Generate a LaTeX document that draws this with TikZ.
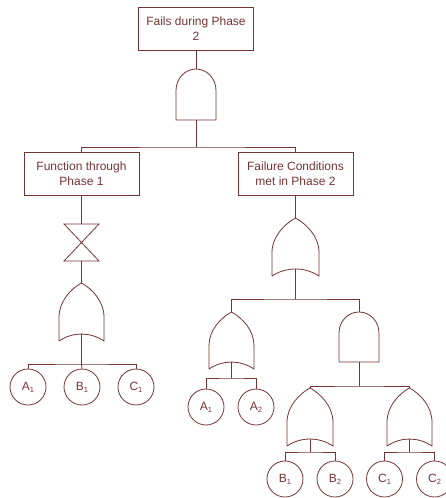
\documentclass[tikz,border=0pt]{standalone}
\usepackage{fontspec}
\setmainfont{Liberation Sans}
\usetikzlibrary{calc}
\definecolor{ft}{RGB}{118,52,52}
\newcommand\orgate[1]{%
  \draw[ln] (#1.south west) -- ($(#1.south west)!0.41!(#1.north west)$)
    .. controls ($(#1.south west)!0.68!(#1.north west)$) and ($(#1.north)+(-11pt,-6pt)$) .. (#1.north)
    .. controls ($(#1.north)+(11pt,-6pt)$) and ($(#1.south east)!0.68!(#1.north east)$) .. ($(#1.south east)!0.41!(#1.north east)$)
    -- (#1.south east)
    .. controls ($(#1.south east)+(-14pt,9.3pt)$) and ($(#1.south west)+(14pt,9.3pt)$) .. (#1.south west);}
\newcommand\andgate[1]{%
  \draw[ln] (#1.south west) -- ($(#1.south west)!0.58!(#1.north west)$)
    .. controls ($(#1.south west)!0.812!(#1.north west)$) and ($(#1.north west)!0.448!(#1.north)$) .. (#1.north)
    .. controls ($(#1.north east)!0.448!(#1.north)$) and ($(#1.south east)!0.812!(#1.north east)$) .. ($(#1.south east)!0.58!(#1.north east)$)
    -- (#1.south east) -- cycle;}
\newcommand\inhgate[1]{%
  \draw[ln] (#1.north west) -- (#1.north east) -- (#1.south west) -- (#1.south east) -- cycle;}
\newcommand\sub[1]{\raisebox{-0.35ex}{\fontsize{7.5}{8}\selectfont #1}}
\begin{document}
\begin{tikzpicture}[x=1pt,y=1pt,
  every node/.style={inner sep=0pt, outer sep=0pt},
  ln/.style={draw=ft, line width=0.8pt},
  evbox/.style={ln, minimum width=115pt, minimum height=43pt, align=center,
    font=\fontsize{12}{15}\selectfont, text=ft},
  gbox/.style 2 args={minimum width=#1, minimum height=#2},
  basic/.style={ln, circle, minimum size=36pt, font=\fontsize{12}{13}\selectfont, text=ft}]
\useasboundingbox (0,0) rectangle (446,-498);
% events
\node[evbox] (top) at (196,-28.5) {Fails during Phase\\2};
\node[evbox] (lb) at (81.5,-173.5) {Function through\\Phase 1};
\node[evbox] (rb) at (295.5,-173.5) {Failure Conditions\\met in Phase 2};
% gates
\node[gbox={40pt}{51pt}] (g1) at (196,-94.5) {};
\node[gbox={35pt}{37pt}] (bt) at (81.5,-242.5) {};
\node[gbox={45pt}{58pt}] (ogL) at (81.5,-312) {};
\node[gbox={47pt}{58pt}] (ogR) at (295.5,-247) {};
\node[gbox={45pt}{57pt}] (ogA) at (231.5,-340.5) {};
\node[gbox={40pt}{50pt}] (agBC) at (359,-337) {};
\node[gbox={46pt}{58pt}] (ogB) at (310,-417) {};
\node[gbox={45pt}{58pt}] (ogC) at (409.5,-417) {};
\andgate{g1}
\inhgate{bt}
\orgate{ogL}
\orgate{ogR}
\orgate{ogA}
\andgate{agBC}
\orgate{ogB}
\orgate{ogC}
% basic events
\node[basic] (a1) at (28,-387) {A\sub{1}};
\node[basic] (b1) at (82,-387) {B\sub{1}};
\node[basic] (c1) at (136,-387) {C\sub{1}};
\node[basic] (ra1) at (206,-407) {A\sub{1}};
\node[basic] (ra2) at (256,-407) {A\sub{2}};
\node[basic] (rb1) at (285,-479) {B\sub{1}};
\node[basic] (rb2) at (335,-479) {B\sub{2}};
\node[basic] (rc1) at (384.5,-479) {C\sub{1}};
\node[basic] (rc2) at (434.5,-479) {C\sub{2}};
% junctions
\coordinate (j1) at (196,-147);
\coordinate (j2) at (81.5,-364);
\coordinate (j3) at (295.5,-299);
\coordinate (j4) at (231.5,-378);
\coordinate (j5) at (359,-386);
\coordinate (j6) at (310,-452);
\coordinate (j7) at (409.5,-452);
% connectors
\draw[ln] (top.south) -- (g1.north);
\draw[ln] (g1.south) -- (j1);
\draw[ln] (lb.north) |- (j1) -| (rb.north);
\draw[ln] (lb.south) -- (bt.north);
\draw[ln] (bt.south) -- (ogL.north);
\draw[ln] ([yshift=7pt]ogL.south) -- (j2);
\draw[ln] (a1.north) |- (j2) -| (c1.north);
\draw[ln] (j2) -- (b1.north);
\draw[ln] (rb.south) -- (ogR.north);
\draw[ln] ([yshift=7pt]ogR.south) -- (j3);
\draw[ln] (ogA.north) |- (j3) -| (agBC.north);
\draw[ln] ([yshift=7pt]ogA.south) -- (j4);
\draw[ln] (ra1.north) |- (j4) -| (ra2.north);
\draw[ln] (agBC.south) -- (j5);
\draw[ln] (ogB.north) |- (j5) -| (ogC.north);
\draw[ln] ([yshift=7pt]ogB.south) -- (j6);
\draw[ln] (rb1.north) |- (j6) -| (rb2.north);
\draw[ln] ([yshift=7pt]ogC.south) -- (j7);
\draw[ln] (rc1.north) |- (j7) -| (rc2.north);
\end{tikzpicture}
\end{document}
